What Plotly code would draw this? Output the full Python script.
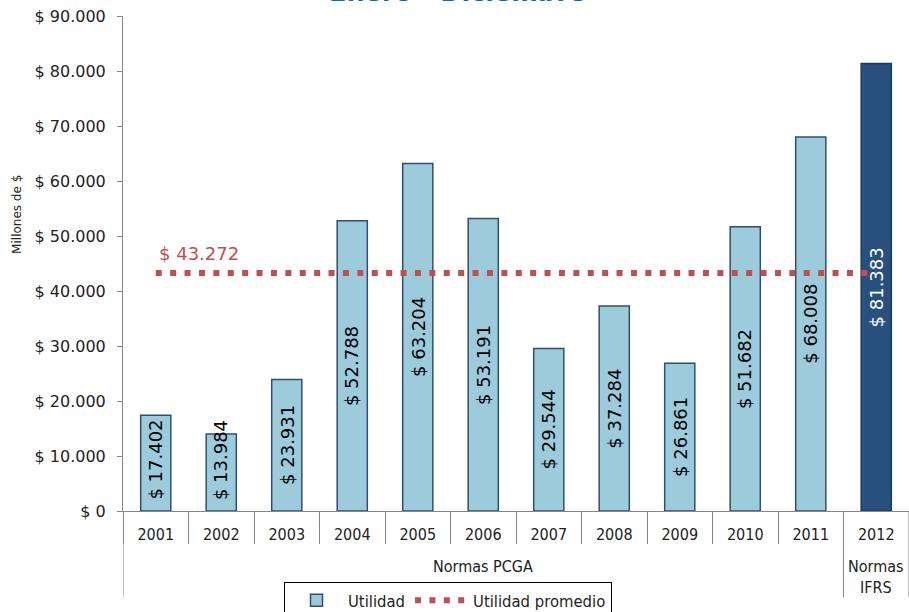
import plotly.graph_objects as go

# ---- data ----
years = ["2001", "2002", "2003", "2004", "2005", "2006", "2007", "2008",
         "2009", "2010", "2011", "2012"]
groups = ["Normas PCGA"] * 11 + ["Normas IFRS"]
utilidad = [17402, 13984, 23931, 52788, 63204, 53191, 29544, 37284,
            26861, 51682, 68008, 81383]
promedio = 43272
utilidad_promedio = [promedio] * len(years)
y_ticks = [0, 10000, 20000, 30000, 40000, 50000, 60000, 70000, 80000, 90000]
group_labels = {"Normas PCGA": "Normas PCGA", "Normas IFRS": "Normas<br>IFRS"}


def fmt(v):
    return "$ " + "{:,}".format(v).replace(",", ".")


LIGHT = "#9ccbdc"
LIGHT_LINE = "#2f4f70"
DARK = "#27507f"
DARK_LINE = "#1b3a5e"
RED = "#c0504d"
AXIS = "#868686"
FONT = "DejaVu Sans"
CFONT = "DejaVu Sans Condensed"

bar_colors = [DARK if g == "Normas IFRS" else LIGHT for g in groups]
bar_lines = [DARK_LINE if g == "Normas IFRS" else LIGHT_LINE for g in groups]
label_colors = ["white" if g == "Normas IFRS" else "black" for g in groups]

fig = go.Figure()
fig.add_trace(go.Bar(
    x=years, y=utilidad, name="Utilidad",
    width=0.46,
    marker=dict(color=bar_colors, line=dict(color=bar_lines, width=1.5)),
    hoverinfo="x+y",
))
fig.add_trace(go.Scatter(
    x=years, y=utilidad_promedio, name="Utilidad promedio",
    mode="lines",
    line=dict(color=RED, width=6, dash="6px,8.4px"),
))

annotations = []
# value labels inside bars (rotated); category axes use index positions
for i, (v, c) in enumerate(zip(utilidad, label_colors)):
    annotations.append(dict(
        x=i, y=max(v / 2, 9300), xref="x", yref="y",
        text=fmt(v), textangle=-90, showarrow=False,
        xanchor="center", yanchor="middle",
        font=dict(family=FONT, size=18, color=c),
    ))
# average label
annotations.append(dict(
    x=0, y=promedio, xref="x", yref="y", text=fmt(promedio),
    showarrow=False, xanchor="left", yanchor="middle", xshift=1, yshift=20,
    font=dict(family=FONT, size=18, color=RED),
))
# group labels and dividers
shapes = []
order = []
for g in groups:
    if g not in order:
        order.append(g)
start = 0
for g in order:
    n = groups.count(g)
    annotations.append(dict(
        x=start + (n - 1) / 2, y=0, xref="x", yref="paper", text=group_labels[g],
        showarrow=False, xanchor="center", yanchor="top",
        yshift=-44, font=dict(family=CFONT, size=16, color="#222222"),
    ))
    for b in (start - 0.5, start + n - 0.5):
        shapes.append(dict(type="line", xref="x", yref="paper",
                           x0=b, x1=b, y0=0, y1=-0.174,
                           line=dict(color=AXIS, width=1)))
    start += n

# title (cut off at the top as in the reference)
annotations.append(dict(
    x=0.425, y=1, xref="paper", yref="paper", text="<b>Enero - Diciembre</b>",
    showarrow=False, xanchor="center", yanchor="bottom", yshift=7,
    font=dict(family=FONT, size=25.5, color="#0070c0"),
))
# y-axis title
annotations.append(dict(
    x=-0.135, y=0.6, xref="paper", yref="paper", text="Millones de $",
    textangle=-90, showarrow=False, xanchor="center", yanchor="middle",
    font=dict(family=FONT, size=12, color="#222222"),
))

fig.update_layout(
    width=909, height=612,
    margin=dict(l=123, r=0, t=16, b=101),
    paper_bgcolor="white", plot_bgcolor="white",
    showlegend=True,
    legend=dict(
        orientation="h", xref="container", yref="container",
        x=284 / 909, y=1 - 582 / 612, xanchor="left", yanchor="top",
        bordercolor="black", borderwidth=1, bgcolor="white",
        font=dict(family=CFONT, size=16.5, color="#222222"),
        itemwidth=53,
    ),
    annotations=annotations,
    shapes=shapes,
    bargap=0.54,
)
fig.update_xaxes(
    type="category", categoryorder="array", categoryarray=years,
    range=[-0.5, len(years) - 0.5], autorange=False,
    showline=True, linecolor=AXIS, linewidth=1,
    ticks="outside", tickson="boundaries", ticklen=32, tickcolor=AXIS,
    ticklabelstandoff=9,
    tickfont=dict(family=CFONT, size=16, color="#222222"),
    showgrid=False, zeroline=False,
)
fig.update_yaxes(
    range=[0, 90000], autorange=False,
    tickvals=y_ticks, ticktext=[fmt(v) for v in y_ticks],
    showline=True, linecolor=AXIS, linewidth=1,
    ticks="outside", ticklen=5, tickcolor=AXIS,
    ticklabelstandoff=8,
    tickfont=dict(family=FONT, size=16, color="#222222"),
    showgrid=False, zeroline=False,
)

fig.write_html("out.html", config={"displayModeBar": False},
               post_script="document.body.style.margin='0';")
